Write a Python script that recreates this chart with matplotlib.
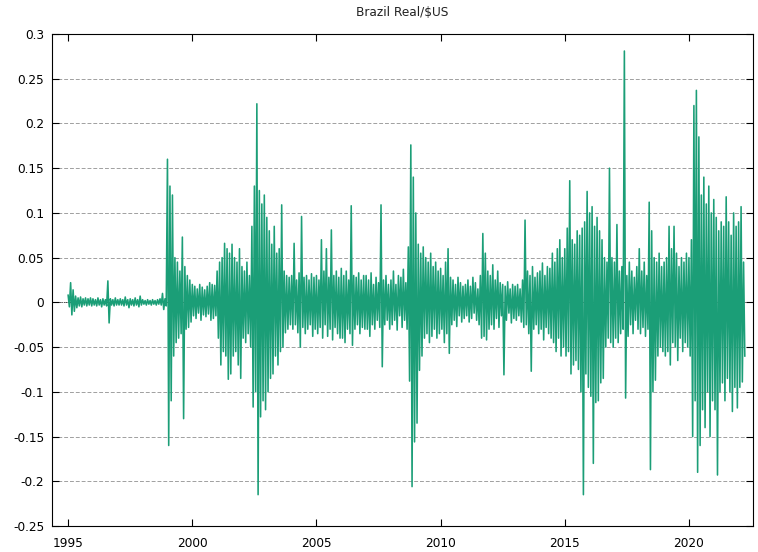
import matplotlib
import matplotlib.pyplot as plt
import numpy as np

plt.rcParams["font.family"] = "DejaVu Sans"
plt.rcParams["font.size"] = 8.7

# daily log returns, read off the picture as the high / low of every 0.1 year
# (values in thousandths), one row per year
start_year = 1995.0
step = 0.1
upper = [
    8, 22, 14, 7, 5, 6, 4, 5, 4, 5,  # 1995
    4, 3, 5, 3, 4, 3, 24, 4, 3, 5,  # 1996
    3, 4, 3, 6, 3, 4, 3, 5, 3, 7,  # 1997
    3, 2, 3, 2, 3, 2, 3, 4, 10, 4,  # 1998
    160, 130, 120, 50, 45, 35, 73, 40, 30, 25,  # 1999
    20, 18, 15, 20, 17, 14, 18, 22, 20, 19,  # 2000
    35, 45, 50, 66, 60, 55, 65, 50, 45, 60,  # 2001
    40, 35, 45, 30, 85, 130, 222, 125, 110, 120,  # 2002
    95, 80, 65, 85, 55, 60, 109, 35, 30, 28,  # 2003
    30, 66, 25, 33, 96, 28, 30, 25, 32, 28,  # 2004
    30, 25, 70, 35, 60, 28, 81, 30, 35, 28,  # 2005
    38, 30, 35, 25, 108, 30, 28, 33, 25, 30,  # 2006
    30, 25, 33, 20, 28, 22, 109, 25, 30, 20,  # 2007
    25, 35, 20, 30, 28, 37, 22, 62, 176, 140,  # 2008
    100, 65, 55, 62, 50, 45, 55, 40, 45, 35,  # 2009
    38, 30, 45, 60, 28, 25, 20, 28, 22, 18,  # 2010
    20, 25, 18, 28, 22, 15, 30, 77, 55, 35,  # 2011
    30, 42, 25, 35, 22, 20, 18, 23, 15, 20,  # 2012
    18, 20, 15, 25, 92, 35, 30, 40, 28, 33,  # 2013
    35, 44, 30, 40, 38, 55, 45, 60, 70, 50,  # 2014
    60, 83, 136, 70, 65, 80, 75, 83, 90, 124,  # 2015
    100, 107, 85, 95, 80, 70, 50, 45, 150, 50,  # 2016
    45, 87, 35, 40, 281, 30, 45, 35, 28, 40,  # 2017
    60, 35, 45, 30, 112, 80, 50, 45, 55, 40,  # 2018
    45, 50, 85, 60, 85, 55, 40, 50, 45, 55,  # 2019
    50, 70, 220, 237, 185, 120, 140, 110, 130, 100,  # 2020
    115, 95, 80, 90, 85, 118, 90, 75, 100, 85,  # 2021
    90, 107, 45,  # 2022
]
lower = [
    -5, -14, -10, -6, -4, -5, -3, -4, -3, -4,  # 1995
    -3, -4, -3, -5, -3, -4, -23, -3, -4, -3,  # 1996
    -3, -3, -4, -3, -6, -3, -4, -3, -5, -3,  # 1997
    -2, -3, -2, -3, -2, -3, -2, -3, -8, -4,  # 1998
    -160, -110, -60, -45, -40, -35, -130, -30, -28, -22,  # 1999
    -15, -18, -12, -20, -14, -16, -13, -20, -18, -15,  # 2000
    -40, -70, -55, -60, -86, -80, -60, -55, -70, -85,  # 2001
    -40, -45, -35, -50, -117, -100, -215, -128, -110, -120,  # 2002
    -100, -85, -80, -60, -70, -55, -50, -34, -30, -25,  # 2003
    -30, -25, -34, -50, -28, -35, -30, -25, -38, -30,  # 2004
    -35, -28, -40, -25, -38, -30, -42, -28, -35, -40,  # 2005
    -40, -45, -30, -35, -48, -30, -25, -35, -28, -30,  # 2006
    -30, -38, -25, -30, -20, -28, -72, -25, -20, -30,  # 2007
    -25, -20, -31, -15, -28, -20, -30, -88, -206, -156,  # 2008
    -135, -76, -60, -40, -35, -45, -38, -30, -40, -35,  # 2009
    -30, -45, -35, -57, -25, -20, -27, -15, -22, -18,  # 2010
    -15, -22, -18, -12, -20, -25, -40, -38, -42, -30,  # 2011
    -25, -30, -18, -28, -15, -81, -20, -12, -23, -18,  # 2012
    -20, -15, -22, -28, -25, -35, -77, -30, -25, -35,  # 2013
    -30, -42, -28, -35, -40, -45, -55, -40, -60, -50,  # 2014
    -60, -55, -80, -70, -65, -75, -100, -215, -80, -95,  # 2015
    -105, -180, -112, -110, -90, -85, -50, -40, -45, -50,  # 2016
    -40, -45, -35, -30, -107, -38, -25, -35, -20, -30,  # 2017
    -35, -28, -38, -30, -187, -100, -87, -60, -50, -55,  # 2018
    -60, -55, -70, -45, -50, -65, -40, -55, -45, -50,  # 2019
    -60, -150, -110, -190, -160, -120, -140, -100, -150, -110,  # 2020
    -120, -193, -100, -90, -110, -85, -100, -122, -95, -118,  # 2021
    -95, -89, -60,  # 2022
]
yticks = [-0.25, -0.2, -0.15, -0.1, -0.05, 0, 0.05, 0.1, 0.15, 0.2, 0.25, 0.3]
xticks = [1995, 2000, 2005, 2010, 2015, 2020]
title = "Brazil Real/\\$US"

assert len(upper) == len(lower)
t = start_year + step * np.arange(len(upper))
xs = np.empty(2 * len(t))
ys = np.empty(2 * len(t))
xs[0::2] = t
xs[1::2] = t + step / 2
ys[0::2] = np.array(upper) / 1000
ys[1::2] = np.array(lower) / 1000

fig = plt.figure(figsize=(7.58, 5.52), dpi=100)
ax = fig.add_axes([52 / 758, 26 / 552, 701 / 758, 492 / 552])

for v in yticks:
    ax.axhline(v, color="#a0a0a0", lw=0.7, ls=(0, (4, 2)), zorder=0)
ax.axhline(0, color="#404040", lw=0.7, ls=(0, (1, 1)), zorder=0)

ax.plot(xs, ys, color="#1b9e77", lw=1.15, zorder=2)

ax.set_xlim(1994.35, 2022.58)
ax.set_ylim(-0.25, 0.3)
ax.set_yticks(yticks)
ax.set_yticklabels([f"{v:g}" for v in yticks])
ax.set_xticks(xticks)
ax.set_xticklabels([str(v) for v in xticks])
ax.tick_params(direction="in", length=5, width=0.8, top=True, right=True, colors="black")
ax.tick_params(axis="x", pad=8)
ax.tick_params(axis="y", pad=5.5)
for s in ax.spines.values():
    s.set_linewidth(0.8)

fig.text(402.5 / 758, 1 - 12 / 552, title, ha="center", va="center", color="#222222")

plt.savefig("out.png", dpi=100)
